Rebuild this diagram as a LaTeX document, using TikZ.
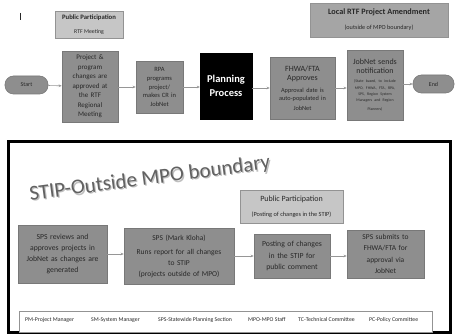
\documentclass[tikz,border=0pt]{standalone}
\usepackage{fontspec}
\setmainfont{Carlito}
\usetikzlibrary{arrows.meta}
\definecolor{boxgray}{RGB}{142,142,142}
\definecolor{boxedge}{RGB}{120,120,120}
\definecolor{lightbox}{RGB}{198,198,198}
\definecolor{midbox}{RGB}{165,165,165}
\definecolor{txt}{RGB}{40,40,40}
\definecolor{arrgray}{RGB}{150,150,150}
\tikzset{
  gbox/.style={draw=boxedge, line width=0.6pt, fill=boxgray, text=txt, align=center, inner sep=1pt, font=\fontsize{7}{9.5}\selectfont},
  lbox/.style={draw=boxedge!80, line width=0.6pt, fill=lightbox, text=txt, align=center, inner sep=1pt},
  pill/.style={draw=boxedge, line width=0.6pt, fill=boxgray, text=txt, rounded corners=8.5pt, align=center, font=\fontsize{6}{7}\selectfont, inner sep=0pt},
  arr/.style={-{Stealth[length=3pt,width=2.6pt]}, draw=arrgray, line width=0.6pt},
  legtxt/.style={anchor=west, text=txt, font=\fontsize{5.8}{6}\selectfont, inner sep=0pt}
}
\begin{document}
\begin{tikzpicture}[x=1pt,y=-1pt]
\useasboundingbox[fill=white] (0,0) rectangle (456,336);
% small mark
\draw[txt, line width=0.7pt] (20,13) -- (20,20);
% top row
\node[lbox, minimum width=68pt, minimum height=27pt] (pp1) at (89,24.5)
  {{\fontsize{6.7}{8}\selectfont\bfseries Public Participation}\\[2.5pt]{\fontsize{5.8}{7}\selectfont RTF Meeting}};
\node[lbox, fill=midbox, minimum width=138pt, minimum height=34pt] (local) at (379,20)
  {{\fontsize{8.2}{10}\selectfont\bfseries Local RTF Project Amendment}\\[3pt]{\fontsize{6.2}{7}\selectfont (outside of MPO boundary)}};
\node[pill, minimum width=43pt, minimum height=18pt] (start) at (26.5,85) {Start};
\node[gbox, minimum width=56pt, minimum height=71pt, text width=52pt] (proj) at (90,86.5)
  {Project \&\\program\\changes are\\approved at\\the RTF\\Regional\\Meeting};
\node[gbox, minimum width=47pt, minimum height=52pt, text width=44pt, font=\fontsize{6.5}{8.7}\selectfont] (rpa) at (159.5,87)
  {RPA\\programs\\project/\\makes CR in\\JobNet};
\node[draw=black, fill=black, text=white, minimum width=52pt, minimum height=66pt, align=center, font=\fontsize{10.5}{14}\selectfont\bfseries] (plan) at (226,86)
  {Planning\\Process};
\node[gbox, minimum width=65pt, minimum height=62pt, text width=62pt] (fhwa) at (302.5,88)
  {{\fontsize{8}{11}\selectfont FHWA/FTA\\Approves}\\[3pt]{\fontsize{6.3}{8.5}\selectfont Approval date is\\auto-populated in\\JobNet}};
\node[gbox, minimum width=56pt, minimum height=70pt, text width=54pt] (jobnet) at (375,85)
  {{\fontsize{8}{11}\selectfont JobNet sends\\notification}\\[3pt]{\fontsize{3.9}{6.2}\selectfont (State based, to include\\MPO, FHWA, FTA, RPA,\\SPS, Region System\\Managers and Region\\Planners)}};
\node[pill, minimum width=41pt, minimum height=18pt] (end) at (433.5,84) {End};
\draw[arr] (start) -- (proj);
\draw[arr] (proj.east |- rpa.west) -- (rpa.west);
\draw[arr] (rpa.east) -- (rpa.east -| plan.west);
\draw[arr] (plan.east |- fhwa.west) -- (fhwa.west);
\draw[arr] (fhwa.east) -- (fhwa.east -| jobnet.west);
\draw[arr] (jobnet.east |- end.west) -- (end.west);
% bottom frame
\draw[black, line width=3pt] (8,142) rectangle (450,333);
\node[text=black!25, rotate=7.5, font=\fontsize{21}{24}\selectfont] at (151.2,180.2) {STIP-Outside MPO boundary};
\node[text=black!62, rotate=7.5, font=\fontsize{21}{24}\selectfont] (title) at (150,179) {STIP-Outside MPO boundary};
\node[lbox, minimum width=103pt, minimum height=33pt] (pp2) at (291.5,206.5)
  {{\fontsize{8}{9}\selectfont Public Participation}\\[3pt]{\fontsize{6.3}{7}\selectfont (Posting of changes in the STIP)}};
\node[gbox, minimum width=89pt, minimum height=58pt, text width=86pt, font=\fontsize{7.7}{11}\selectfont] (sps1) at (62.5,254)
  {SPS reviews and\\approves projects in\\JobNet as changes are\\generated};
\node[gbox, minimum width=110pt, minimum height=56pt, text width=106pt, font=\fontsize{7.5}{10.7}\selectfont] (sps2) at (179,256)
  {SPS (Mark Kloha)\\[4pt]Runs report for all changes\\to STIP\\(projects outside of MPO)};
\node[gbox, minimum width=76pt, minimum height=44pt, text width=74pt, font=\fontsize{7.7}{11.5}\selectfont] (post) at (292,256)
  {Posting of changes\\in the STIP for\\public comment};
\node[gbox, minimum width=77pt, minimum height=48pt, text width=74pt, font=\fontsize{7.5}{11.2}\selectfont] (sps3) at (385.5,254)
  {SPS submits to\\FHWA/FTA for\\approval via\\JobNet};
\draw[arr] (sps1.east) -- (sps1.east -| sps2.west);
\draw[arr] (sps2.east |- post.west) -- (post.west);
\draw[arr] (post.east) -- (post.east -| sps3.west);
% legend
\node[draw=boxedge!80, line width=0.7pt, fill=white, minimum width=413pt, minimum height=21pt, inner sep=0pt] (legend) at (225.5,321.5) {};
\node[legtxt] (l1) at (25,320) {PM-Project Manager};
\node[legtxt] (l2) at (91,320) {SM-System Manager};
\node[legtxt] (l3) at (158,320) {SPS-Statewide Planning Section};
\node[legtxt] (l4) at (248,320) {MPO-MPO Staff};
\node[legtxt] (l5) at (298,320) {TC-Technical Committee};
\node[legtxt] (l6) at (369,320) {PC-Policy Committee};
\end{tikzpicture}
\end{document}
